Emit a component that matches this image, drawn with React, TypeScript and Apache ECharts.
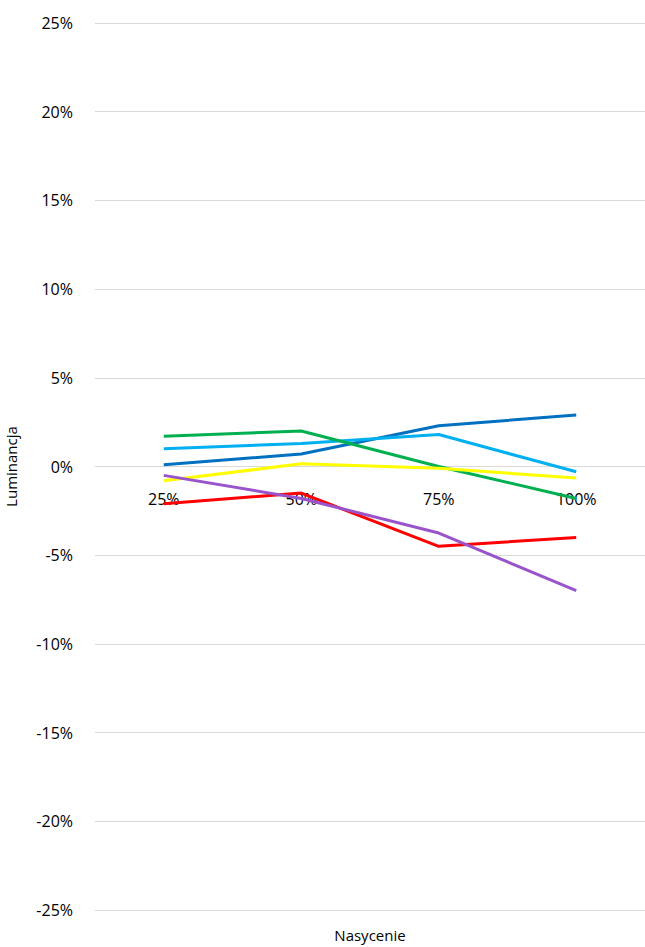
import { useEffect, useRef } from 'react';
import * as echarts from 'echarts';

const categories = ['25%', '50%', '75%', '100%'];
const darkBlue = [0.1, 0.7, 2.3, 2.9];
const lightBlue = [1.0, 1.3, 1.8, -0.3];
const green = [1.7, 2.0, 0.0, -1.8];
const yellow = [-0.8, 0.15, -0.1, -0.65];
const red = [-2.1, -1.5, -4.5, -4.0];
const purple = [-0.5, -1.8, -3.75, -7.0];

const seriesDefs: [number[], string][] = [
    [darkBlue, '#0070C0'],
    [lightBlue, '#00B0F0'],
    [green, '#00B050'],
    [yellow, '#FFFF00'],
    [red, '#FF0000'],
    [purple, '#9954CC'],
];

export default function App() {
    const ref = useRef<HTMLDivElement>(null);
    useEffect(() => {
        if (!ref.current) return;
        const chart = echarts.init(ref.current, undefined, { renderer: 'svg', width: 645, height: 947 });
        const font = 'Open Sans';
        chart.setOption({
            animation: false,
            backgroundColor: '#fff',
            grid: { left: 95, right: 0, top: 23, bottom: 37, outerBoundsMode: 'none', containLabel: false },
            xAxis: {
                type: 'category',
                data: categories,
                name: 'Nasycenie',
                nameLocation: 'middle',
                nameGap: 461,
                offset: -443.5,
                nameTextStyle: { fontFamily: font, fontSize: 15, color: '#000' },
                axisLine: { onZero: false, lineStyle: { color: '#d9d9d9' } },
                axisTick: { show: false },
                axisLabel: { fontFamily: font, fontSize: 16, color: '#000', margin: 24 },
            },
            yAxis: {
                type: 'value',
                min: -25,
                max: 25,
                interval: 5,
                name: 'Luminancja',
                nameLocation: 'middle',
                nameGap: 77,
                nameTextStyle: { fontFamily: font, fontSize: 15, color: '#000' },
                axisLine: { show: false },
                axisTick: { show: false },
                axisLabel: { fontFamily: font, fontSize: 16, color: '#000', margin: 22, formatter: '{value}%' },
                splitLine: { lineStyle: { color: '#d9d9d9' } },
            },
            series: seriesDefs.map(([d, c]) => ({
                type: 'line',
                data: d,
                symbol: 'none',
                lineStyle: { color: c, width: 3 },
                itemStyle: { color: c },
            })),
        });
        return () => chart.dispose();
    }, []);
    return <div ref={ref} style={{ width: 645, height: 947, position: 'absolute', left: 0, top: 0 }} />;
}
